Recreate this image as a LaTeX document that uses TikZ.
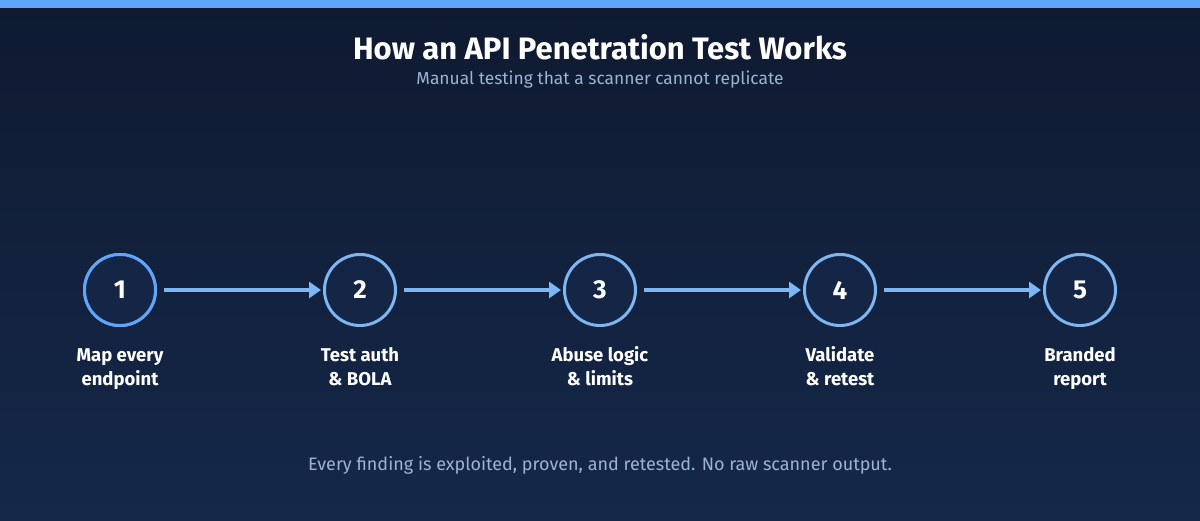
\documentclass[tikz,border=0pt]{standalone}
\usepackage{fontspec}
\setmainfont{Fira Sans}
\usetikzlibrary{arrows.meta}
\definecolor{bgtop}{HTML}{0F1A30}
\definecolor{bgbot}{HTML}{15284A}
\definecolor{accent}{HTML}{60A5FA}
\definecolor{acc2}{HTML}{7DB6F2}
\definecolor{sub}{HTML}{9AB3D6}
\begin{document}
\begin{tikzpicture}[x=1pt,y=-1pt,
  stepc/.style={circle,draw=acc2,line width=3pt,minimum size=71pt,inner sep=0pt,fill=bgbot!80!bgtop,text=white,font=\bfseries\fontsize{26}{30}\selectfont},
  lab/.style={text=white,align=center,anchor=base,inner sep=0pt,font=\fontsize{18.5}{24}\selectfont\bfseries},
  arr/.style={draw=acc2,line width=3.5pt,-{Triangle[length=12pt,width=16pt]}}]
\useasboundingbox (0,0) rectangle (1200,520);
\shade[top color=bgtop,bottom color=bgbot] (0,0) rectangle (1200,520);
\fill[accent] (0,0) rectangle (1200,8);
\node[text=white,font=\bfseries\fontsize{31}{36}\selectfont] (t) at (600,47) {How an API Penetration Test Works};
\node[text=sub,font=\fontsize{17.4}{20}\selectfont] (s) at (600,80) {Manual testing that a scanner cannot replicate};
\foreach \i/\x/\a/\b in {1/120/Map every/endpoint,2/360/Test auth/\& BOLA,3/600/Abuse logic/\& limits,4/840/Validate/\& retest,5/1080/Branded/report}{
  \node[stepc] (c\i) at (\x,290) {\i};
  \node[lab] (l\i) at (\x,385) {\a\\\b};
}
\node[stepc,draw=accent] at (c1) {1};
\foreach \i/\j in {1/2,2/3,3/4,4/5}{\draw[arr] ([xshift=7pt]c\i.east) -- ([xshift=-2pt]c\j.west);}
\node[text=sub,font=\fontsize{18}{22}\selectfont] (f) at (600,465) {Every finding is exploited, proven, and retested. No raw scanner output.};
\end{tikzpicture}
\end{document}
